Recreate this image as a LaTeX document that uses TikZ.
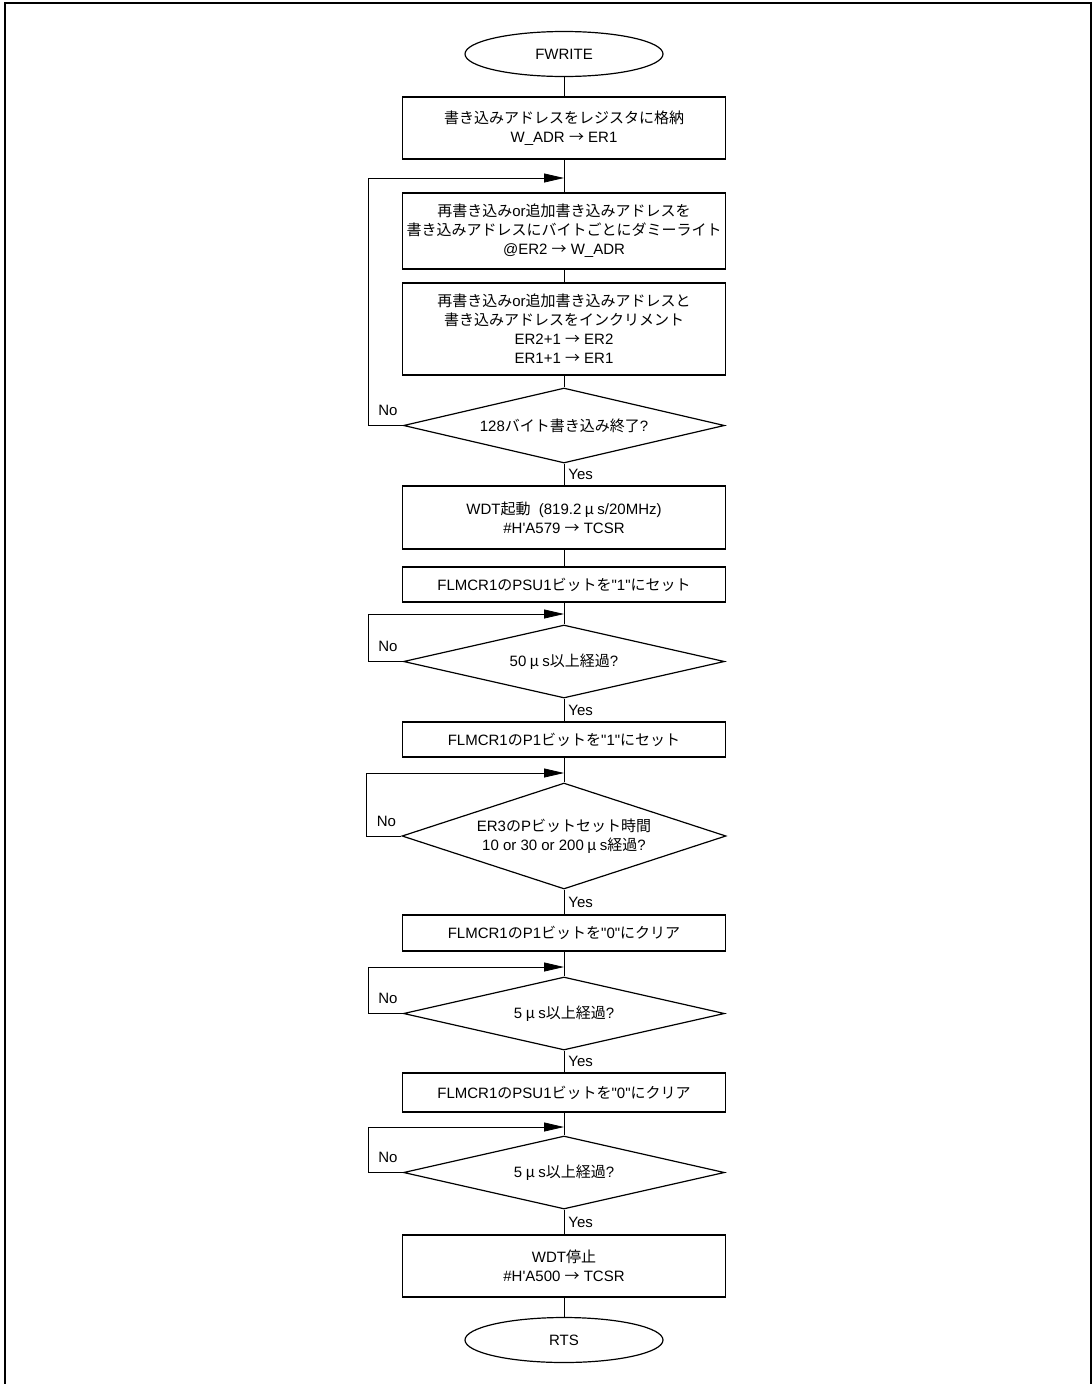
\documentclass[tikz,border=0pt]{standalone}
\usepackage{fontspec}
\setmainfont{Liberation Sans}
\newfontfamily\jp{Noto Sans CJK JP}
\usetikzlibrary{shapes.geometric, arrows.meta}
\newcommand{\mus}{\makebox[16pt]{\jp μ}}
\newcommand{\ra}{{\jp →}}
\newcommand{\qq}{\textquotedbl}

\begin{document}
\begin{tikzpicture}[
    x=1pt,
    y=-1pt,
    every node/.style={font=\fontsize{15}{19}\selectfont},
    proc/.style={draw, line width=1.2pt, align=center, minimum width=323pt, inner sep=0pt},
    cond/.style={draw, line width=1.2pt, diamond, shape aspect=3, align=center, minimum width=321pt, inner sep=0pt},
    term/.style={draw, line width=1.2pt, ellipse, minimum width=198pt, minimum height=45pt},
    flow/.style={line width=0.8pt},
    back/.style={line width=0.8pt, -{Triangle[length=20pt, width=9pt]}},
    yeslabel/.style={right, pos=0.5, inner sep=4pt},
    nolabel/.style={anchor=south west, inner sep=2pt, xshift=8pt, yshift=7pt},
    frame/.style={line width=2.2pt}
]
    \useasboundingbox (0,0) rectangle (1092,1384);
    \draw[frame] (5,1384) -- (5,3) -- (1091,3) -- (1091,1384);

    \node[term] (start) at (564,54) {FWRITE};
    \node[proc, minimum height=62pt] (b1) at (564,128) {{\jp 書き込みアドレスをレジスタに格納}\\W\_ADR \ra{} ER1};
    \node[proc, minimum height=76pt] (b2) at (564,231) {{\jp 再書き込み}or{\jp 追加書き込みアドレスを}\\{\jp 書き込みアドレスにバイトごとにダミーライト}\\@ER2 \ra{} W\_ADR};
    \node[proc, minimum height=92pt] (b3) at (564,329) {{\jp 再書き込み}or{\jp 追加書き込みアドレスと}\\{\jp 書き込みアドレスをインクリメント}\\ER2+1 \ra{} ER2\\ER1+1 \ra{} ER1};
    \node[cond, minimum height=75pt] (d1) at (564,425.5) {128{\jp バイト書き込み終了}?};
    \node[proc, minimum height=63pt] (b4) at (564,517.5) {WDT{\jp 起動}\ \ (819.2\mus s/20MHz)\\\#H\textquotesingle A579 \ra{} TCSR};
    \node[proc, minimum height=35pt] (b5) at (564,584.5) {FLMCR1{\jp の}PSU1{\jp ビットを}\qq1\qq{\jp にセット}};
    \node[cond, minimum height=73pt] (d2) at (564,661.5) {50\mus s{\jp 以上経過}?};
    \node[proc, minimum height=35pt] (b6) at (564,739.5) {FLMCR1{\jp の}P1{\jp ビットを}\qq1\qq{\jp にセット}};
    \node[cond, minimum height=106pt, minimum width=324pt] (d3) at (564,836) {ER3{\jp の}P{\jp ビットセット時間}\\10 or 30 or 200\mus s{\jp 経過}?};
    \node[proc, minimum height=36pt] (b7) at (564,933) {FLMCR1{\jp の}P1{\jp ビットを}\qq0\qq{\jp にクリア}};
    \node[cond, minimum height=73pt] (d4) at (564,1013.5) {5\mus s{\jp 以上経過}?};
    \node[proc, minimum height=39pt] (b8) at (564,1092.5) {FLMCR1{\jp の}PSU1{\jp ビットを}\qq0\qq{\jp にクリア}};
    \node[cond, minimum height=73pt] (d5) at (564,1172.5) {5\mus s{\jp 以上経過}?};
    \node[proc, minimum height=62pt] (b9) at (564,1266) {WDT{\jp 停止}\\\#H\textquotesingle A500 \ra{} TCSR};
    \node[term] (stop) at (564,1340) {RTS};

    % loop joints on the main line
    \coordinate (j1) at (564,178);
    \coordinate (j2) at (564,614);
    \coordinate (j3) at (564,773);
    \coordinate (j4) at (564,967);
    \coordinate (j5) at (564,1127);

    \draw[flow] (start) -- (b1);
    \draw[flow] (b1) -- (b2);
    \draw[flow] (b2) -- (b3);
    \draw[flow] (b3) -- (d1);
    \draw[flow] (d1) -- node[yeslabel] {Yes} (b4);
    \draw[flow] (b4) -- (b5);
    \draw[flow] (b5) -- (d2);
    \draw[flow] (d2) -- node[yeslabel] {Yes} (b6);
    \draw[flow] (b6) -- (d3);
    \draw[flow] (d3) -- node[yeslabel] {Yes} (b7);
    \draw[flow] (b7) -- (d4);
    \draw[flow] (d4) -- node[yeslabel] {Yes} (b8);
    \draw[flow] (b8) -- (d5);
    \draw[flow] (d5) -- node[yeslabel] {Yes} (b9);
    \draw[flow] (b9) -- (stop);

    \draw[back] (d1.west) -- ++(-35,0) node[nolabel] {No} |- (j1);
    \draw[back] (d2.west) -- ++(-35,0) node[nolabel] {No} |- (j2);
    \draw[back] (d3.west) -- ++(-35,0) node[nolabel] {No} |- (j3);
    \draw[back] (d4.west) -- ++(-35,0) node[nolabel] {No} |- (j4);
    \draw[back] (d5.west) -- ++(-35,0) node[nolabel] {No} |- (j5);
\end{tikzpicture}
\end{document}
